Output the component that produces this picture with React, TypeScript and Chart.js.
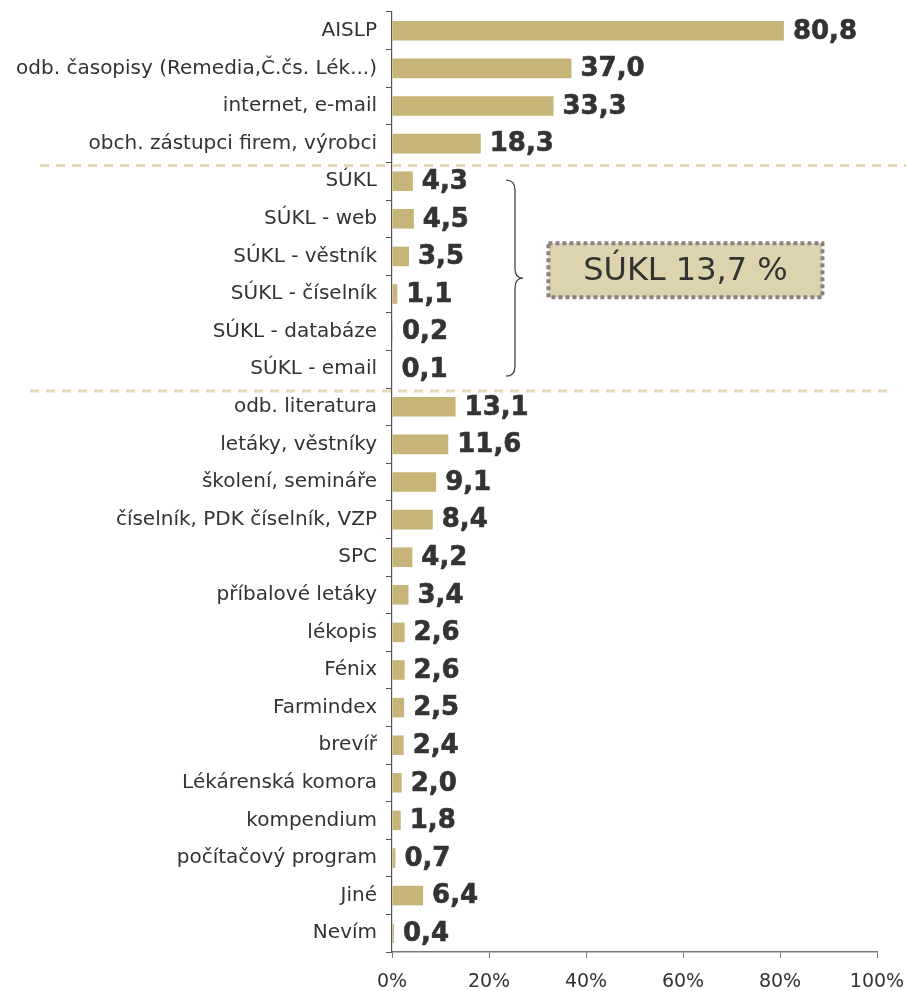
import React, { useEffect, useRef } from "react";
import { Chart, registerables } from "chart.js";

Chart.register(...registerables);

const categories: string[] = [
  "AISLP",
  "odb. časopisy (Remedia,Č.čs. Lék...)",
  "internet, e-mail",
  "obch. zástupci firem, výrobci",
  "SÚKL",
  "SÚKL - web",
  "SÚKL - věstník",
  "SÚKL - číselník",
  "SÚKL - databáze",
  "SÚKL - email",
  "odb. literatura",
  "letáky, věstníky",
  "školení, semináře",
  "číselník, PDK číselník, VZP",
  "SPC",
  "příbalové letáky",
  "lékopis",
  "Fénix",
  "Farmindex",
  "brevíř",
  "Lékárenská komora",
  "kompendium",
  "počítačový program",
  "Jiné",
  "Nevím",
];

const values: number[] = [
  80.8, 37.0, 33.3, 18.3, 4.3, 4.5, 3.5, 1.1, 0.2, 0.1, 13.1, 11.6, 9.1, 8.4,
  4.2, 3.4, 2.6, 2.6, 2.5, 2.4, 2.0, 1.8, 0.7, 6.4, 0.4,
];

const xTicks: number[] = [0, 20, 40, 60, 80, 100];
const groupStart = 4;
const groupEnd = 9;
const groupLabel = "SÚKL 13,7 %";

const FONT = "'DejaVu Sans', Verdana, sans-serif";
const TEXT = "#333333";
const BAR = "#C6B478";
const DASH = "#E6DBB8";

const fmt = (v: number) => v.toFixed(1).replace(".", ",");

const valueLabels = {
  id: "valueLabels",
  afterDatasetsDraw(chart: any) {
    const ctx = chart.ctx;
    const meta = chart.getDatasetMeta(0);
    ctx.save();
    ctx.font = `bold 26px ${FONT}`;
    ctx.fillStyle = TEXT;
    ctx.strokeStyle = TEXT;
    ctx.lineWidth = 0.6;
    ctx.textAlign = "left";
    ctx.textBaseline = "middle";
    meta.data.forEach((bar: any, i: number) => {
      ctx.fillText(fmt(values[i]), bar.x + 9, bar.y + 1);
      ctx.strokeText(fmt(values[i]), bar.x + 9, bar.y + 1);
    });
    ctx.restore();
  },
};

const annotations = {
  id: "annotations",
  afterDraw(chart: any) {
    const ctx = chart.ctx;
    const y = chart.scales.y;
    const x = chart.scales.x;
    const y1 = (y.getPixelForValue(groupStart - 1) + y.getPixelForValue(groupStart)) / 2 + 3;
    const y2 = (y.getPixelForValue(groupEnd) + y.getPixelForValue(groupEnd + 1)) / 2 + 3;
    ctx.save();
    ctx.strokeStyle = DASH;
    ctx.lineWidth = 3;
    ctx.setLineDash([9, 7]);
    ctx.beginPath();
    ctx.moveTo(40, y1);
    ctx.lineTo(906, y1);
    ctx.stroke();
    ctx.beginPath();
    ctx.moveTo(30, y2);
    ctx.lineTo(888, y2);
    ctx.stroke();
    ctx.setLineDash([]);

    // brace
    const bx = x.getPixelForValue(23.5);
    const top = y.getPixelForValue(groupStart) - 1;
    const bot = y.getPixelForValue(groupEnd) + 7;
    const mid = (top + bot) / 2;
    ctx.strokeStyle = "#444444";
    ctx.lineWidth = 1.3;
    ctx.beginPath();
    ctx.moveTo(bx, top);
    ctx.quadraticCurveTo(bx + 9, top, bx + 9, top + 10);
    ctx.lineTo(bx + 9, mid - 10);
    ctx.quadraticCurveTo(bx + 9, mid, bx + 17, mid);
    ctx.quadraticCurveTo(bx + 9, mid, bx + 9, mid + 10);
    ctx.lineTo(bx + 9, bot - 10);
    ctx.quadraticCurveTo(bx + 9, bot, bx, bot);
    ctx.stroke();

    // box
    const cx = x.getPixelForValue(60.5);
    const cy = mid - 8;
    const w = 274;
    const h = 54;
    ctx.fillStyle = "#DDD3AF";
    ctx.fillRect(cx - w / 2, cy - h / 2, w, h);
    ctx.strokeStyle = "#8C8181";
    ctx.lineWidth = 4;
    ctx.setLineDash([4, 3]);
    ctx.strokeRect(cx - w / 2, cy - h / 2, w, h);
    ctx.setLineDash([]);
    ctx.fillStyle = TEXT;
    ctx.font = `32px ${FONT}`;
    ctx.textAlign = "center";
    ctx.textBaseline = "middle";
    ctx.fillText(groupLabel, cx, cy + 1);
    ctx.restore();
  },
};

export default function App() {
  const ref = useRef<HTMLCanvasElement>(null);
  useEffect(() => {
    if (!ref.current) return;
    const chart = new Chart(ref.current, {
      type: "bar",
      data: {
        labels: categories,
        datasets: [
          {
            data: values,
            backgroundColor: BAR,
            barPercentage: 0.52,
            categoryPercentage: 1,
          },
        ],
      },
      options: {
        indexAxis: "y",
        responsive: false,
        animation: false,
        devicePixelRatio: 1,
        layout: { padding: { top: 12, right: 29, left: 0, bottom: 0 } },
        plugins: { legend: { display: false }, tooltip: { enabled: false } },
        scales: {
          x: {
            min: 0,
            max: 100,
            afterBuildTicks: (s: any) => {
              s.ticks = xTicks.map((v) => ({ value: v }));
            },
            afterFit: (s: any) => {
              s.height = 39;
              s.paddingLeft = 0;
              s.paddingRight = 0;
            },
            ticks: {
              callback: (v: any) => `${v}%`,
              color: TEXT,
              font: { family: FONT, size: 19 },
              padding: 13,
              maxRotation: 0,
            },
            grid: { drawOnChartArea: false, tickLength: 6, color: "#7A7A7A" },
            border: { color: "#7A7A7A", width: 1.5 },
          },
          y: {
            afterFit: (s: any) => {
              s.width = 392;
              s.paddingTop = 0;
              s.paddingBottom = 0;
            },
            ticks: {
              color: TEXT,
              font: { family: FONT, size: 20 },
              padding: 9,
              autoSkip: false,
            },
            grid: { offset: true, drawOnChartArea: false, tickLength: 6, color: "#555555" },
            border: { color: "#555555", width: 1.2 },
          },
        },
      },
      plugins: [valueLabels, annotations],
    });
    return () => chart.destroy();
  }, []);
  return (
    <div style={{ position: "absolute", left: 0, top: 0, width: 906, height: 991, background: "#fff" }}>
      <canvas ref={ref} width={906} height={991} />
    </div>
  );
}
